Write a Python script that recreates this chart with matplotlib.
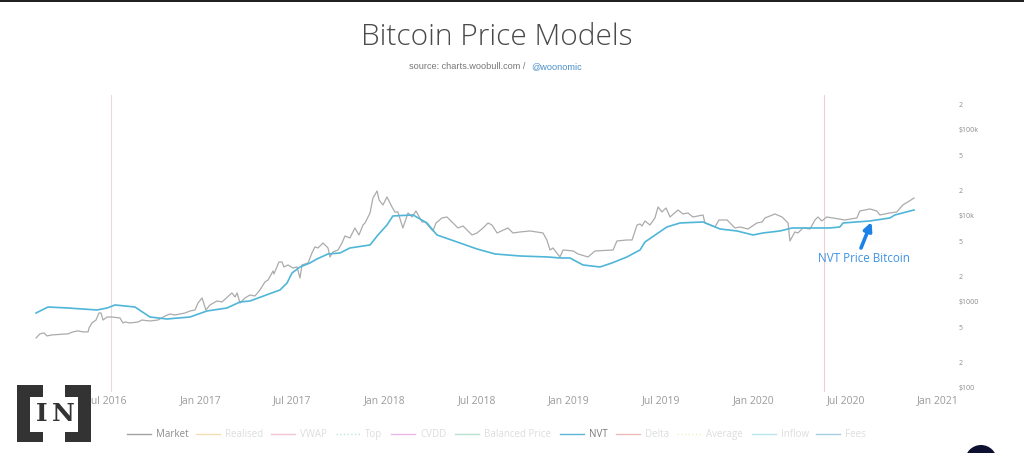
import matplotlib
matplotlib.use("Agg")
import matplotlib.pyplot as plt
from matplotlib.patches import Circle, Rectangle

plt.rcParams["font.family"] = ["Open Sans", "DejaVu Sans"]

# dates are decimal years, prices are USD
market_year = [
    2016.110, 2016.131, 2016.153, 2016.169, 2016.196, 2016.240, 2016.283, 2016.310, 2016.337, 2016.364,
    2016.392, 2016.397, 2016.413, 2016.435, 2016.451, 2016.462, 2016.473, 2016.495, 2016.522, 2016.565,
    2016.581, 2016.592, 2016.619, 2016.663, 2016.684, 2016.728, 2016.771, 2016.809, 2016.836, 2016.863,
    2016.918, 2016.945, 2016.972, 2016.988, 2017.010, 2017.031, 2017.053, 2017.091, 2017.118, 2017.172,
    2017.189, 2017.200, 2017.216, 2017.243, 2017.270, 2017.297, 2017.324, 2017.351, 2017.368, 2017.395,
    2017.400, 2017.427, 2017.444, 2017.454, 2017.476, 2017.503, 2017.525, 2017.541, 2017.552, 2017.585,
    2017.606, 2017.622, 2017.639, 2017.666, 2017.693, 2017.704, 2017.720, 2017.747, 2017.769, 2017.785,
    2017.812, 2017.839, 2017.861, 2017.883, 2017.894, 2017.921, 2017.937, 2017.959, 2017.970, 2017.991,
    2018.013, 2018.040, 2018.056, 2018.072, 2018.099, 2018.127, 2018.149, 2018.170, 2018.203, 2018.219,
    2018.262, 2018.279, 2018.311, 2018.338, 2018.371, 2018.398, 2018.425, 2018.447, 2018.474, 2018.501,
    2018.534, 2018.561, 2018.582, 2018.610, 2018.669, 2018.696, 2018.734, 2018.789, 2018.859, 2018.880,
    2018.897, 2018.913, 2018.951, 2018.968, 2019.022, 2019.049, 2019.103, 2019.141, 2019.239, 2019.260,
    2019.314, 2019.342, 2019.369, 2019.385, 2019.396, 2019.412, 2019.439, 2019.466, 2019.483, 2019.504,
    2019.526, 2019.548, 2019.591, 2019.618, 2019.645, 2019.672, 2019.727, 2019.737, 2019.792, 2019.813,
    2019.857, 2019.900, 2019.927, 2019.971, 2020.019, 2020.047, 2020.063, 2020.117, 2020.155, 2020.188,
    2020.198, 2020.225, 2020.241, 2020.269, 2020.307, 2020.334, 2020.350, 2020.371, 2020.398, 2020.431,
    2020.496, 2020.561, 2020.577, 2020.632, 2020.669, 2020.686, 2020.740, 2020.778, 2020.810, 2020.838,
    2020.871,
]
market_price = [
    382, 426, 437, 403, 414, 420, 426, 449, 461, 449,
    449, 499, 570, 617, 745, 745, 617, 669, 669, 651,
    570, 585, 570, 585, 617, 601, 617, 687, 725, 706,
    745, 786, 807, 973, 1113, 807, 923, 1027, 1000, 1273,
    1143, 1273, 973, 1113, 1206, 1174, 1380, 1709, 1802, 2293,
    2117, 2918, 2918, 2552, 2693, 2484, 2552, 1901, 2693, 2841,
    3713, 4360, 4245, 4853, 4245, 3336, 3814, 4023, 4853, 5853,
    5548, 7252, 6012, 7858, 8290, 10840, 16190, 19520, 15350, 13420,
    16630, 12730, 11130, 11130, 7252, 10840, 9735, 11430, 8515, 8515,
    6692, 8290, 9479, 9735, 8290, 7252, 7651, 6873, 6012, 6343,
    7252, 8290, 7858, 6343, 7252, 6343, 6515, 6692, 6343, 5258,
    4023, 4245, 3336, 4023, 3917, 3615, 3336, 3917, 4023, 5120,
    5258, 5258, 7858, 8072, 7651, 8747, 7858, 9479, 12730, 11130,
    12390, 9735, 11740, 10550, 10840, 9735, 10270, 8290, 7448, 8984,
    8984, 7252, 7448, 7060, 8290, 8515, 9479, 10550, 9735, 8290,
    5120, 6515, 6343, 7252, 7060, 8984, 9735, 8747, 9735, 9479,
    8984, 9479, 11430, 12060, 11430, 10270, 10840, 11130, 13420, 14550,
    16190,
]

nvt_year = [
    2016.110, 2016.175, 2016.283, 2016.440, 2016.495, 2016.538, 2016.646, 2016.728, 2016.820, 2016.945,
    2017.037, 2017.145, 2017.216, 2017.270, 2017.433, 2017.471, 2017.498, 2017.541, 2017.595, 2017.633,
    2017.693, 2017.758, 2017.812, 2017.921, 2017.964, 2018.013, 2018.045, 2018.154, 2018.230, 2018.284,
    2018.393, 2018.501, 2018.599, 2018.734, 2018.886, 2018.951, 2019.005, 2019.076, 2019.168, 2019.233,
    2019.314, 2019.385, 2019.412, 2019.531, 2019.602, 2019.727, 2019.819, 2019.911, 2019.998, 2020.052,
    2020.144, 2020.209, 2020.415, 2020.469, 2020.486, 2020.632, 2020.740, 2020.767, 2020.871,
]
nvt_price = [
    745, 874, 851, 807, 851, 923, 874, 669, 634, 669,
    786, 851, 1000, 1027, 1380, 1664, 2173, 2552, 2841, 3162,
    3615, 3713, 4245, 4600, 6012, 7858, 10000, 10270, 8290, 6012,
    4984, 4133, 3615, 3426, 3336, 3248, 3248, 2693, 2552, 2841,
    3336, 4023, 4984, 7448, 8290, 8515, 7060, 6692, 6012, 6343,
    6692, 7252, 7252, 7448, 8290, 8747, 9479, 10270, 11740,
]

halving_year = [2016.516, 2020.383]
halving_color = ["#e6dcdf", "#f6ccd4"]

x_ticks = [2016.5, 2017.0, 2017.5, 2018.0, 2018.5, 2019.0, 2019.5, 2020.0, 2020.5, 2021.0]
x_labels = ["Jul 2016", "Jan 2017", "Jul 2017", "Jan 2018", "Jul 2018",
            "Jan 2019", "Jul 2019", "Jan 2020", "Jul 2020", "Jan 2021"]
y_ticks = [200000, 100000, 50000, 20000, 10000, 5000, 2000, 1000, 500, 200, 100]
y_labels = ["2", "$100k", "5", "2", "$10k", "5", "2", "$1000", "5", "2", "$100"]

legend_names = ["Market", "Realised", "VWAP", "Top", "CVDD", "Balanced Price",
                "NVT", "Delta", "Average", "Inflow", "Fees"]
legend_colors = ["#a3a3a3", "#f6dcb4", "#f0c4d2", "#bfe6da", "#e8b8e8", "#b8e0cc",
                 "#5cb6d6", "#efbcbc", "#f0f0c8", "#b8e6ea", "#a8cce2"]
legend_styles = ["-", "-", "-", ":", "-", "-", "-", "-", ":", "-", "-"]
legend_text = ["#8c8c8c", "#dddddd", "#dddddd", "#dddddd", "#dddddd", "#dddddd",
               "#7a7a7a", "#dddddd", "#dddddd", "#dddddd", "#dddddd"]
legend_x = [127, 196, 271, 336, 391, 455, 560, 616, 677, 752, 816]

W, H = 1024, 453
fig = plt.figure(figsize=(W / 100, H / 100), dpi=100, facecolor="white")

# plot area, px from the left / top of the picture
left, right, top, bottom = 30, 952, 95, 392
ax = fig.add_axes([left / W, 1 - bottom / H, (right - left) / W, (bottom - top) / H])
ax.set_yscale("log")

for yr, c in zip(halving_year, halving_color):
    ax.axvline(yr, color=c, lw=0.8, zorder=1)

ax.plot(market_year, market_price, color="#ababab", lw=0.9, zorder=2)
ax.plot(nvt_year, nvt_price, color="#4fb6d8", lw=1.2, zorder=3)

ax.set_xlim(2017 + (left - 200.2) / 184.4, 2017 + (right - 200.2) / 184.4)
ax.set_ylim(89.8, 255000)
ax.set_xticks(x_ticks)
ax.set_xticklabels(x_labels, fontsize=7.5, color="#9a9a9a")
ax.minorticks_off()
ax.yaxis.tick_right()
ax.set_yticks(y_ticks)
ax.set_yticklabels(y_labels, fontsize=5, color="#8a8a8a")
ax.tick_params(axis="both", length=0)
ax.tick_params(axis="x", pad=2)
ax.tick_params(axis="y", pad=5)
for s in ax.spines.values():
    s.set_visible(False)

# overlay in picture pixels for the header, legend, note and logo
over = fig.add_axes([0, 0, 1, 1], facecolor="none", zorder=5)
over.set_xlim(0, W)
over.set_ylim(H, 0)
over.axis("off")

over.add_patch(Rectangle((0, 0), W, 2, color="#222222", lw=0))
over.text(497, 37, "Bitcoin Price Models", fontsize=21.5, color="#4a4a4a",
          ha="center", va="center", fontweight="light")
over.text(528, 66.5, "source: charts.woobull.com / ", fontsize=6.6, color="#777777",
          ha="right", va="center", family="Liberation Sans")
over.text(531, 66.5, "@woonomic", fontsize=6.6, color="#4a8fc8",
          ha="left", va="center", family="Liberation Sans")

for x, name, c, s, tc in zip(legend_x, legend_names, legend_colors, legend_styles, legend_text):
    over.plot([x, x + 24], [434, 434], color=c, ls=s, lw=1.0)
    over.text(x + 29, 437, name, fontsize=7, color=tc, ha="left", va="baseline")

over.text(863.5, 258, "NVT Price Bitcoin", fontsize=8.4, color="#3f92e2", ha="center", va="center")
over.annotate("", xy=(871.5, 222), xytext=(861, 248),
              arrowprops=dict(arrowstyle="-|>", color="#1b80e8", lw=2.6, mutation_scale=12,
                              shrinkA=0, shrinkB=0))

# logo
logo = "#333333"
for x, y, w, h in [(17, 385, 13, 57), (17, 385, 26, 12), (17, 432, 26, 10),
                   (78, 385, 13, 57), (65, 385, 26, 12), (65, 432, 26, 10)]:
    over.add_patch(Rectangle((x, y), w, h, color=logo, lw=0))
over.text(42, 414, "I", fontsize=18, color=logo, ha="center", va="center",
          family="DejaVu Serif", fontweight="bold")
over.text(63, 414, "N", fontsize=18, color=logo, ha="center", va="center",
          family="DejaVu Serif", fontweight="bold")

over.add_patch(Circle((981, 461), 16, color="#0d1030", lw=0))

fig.savefig("out.png", dpi=100)
